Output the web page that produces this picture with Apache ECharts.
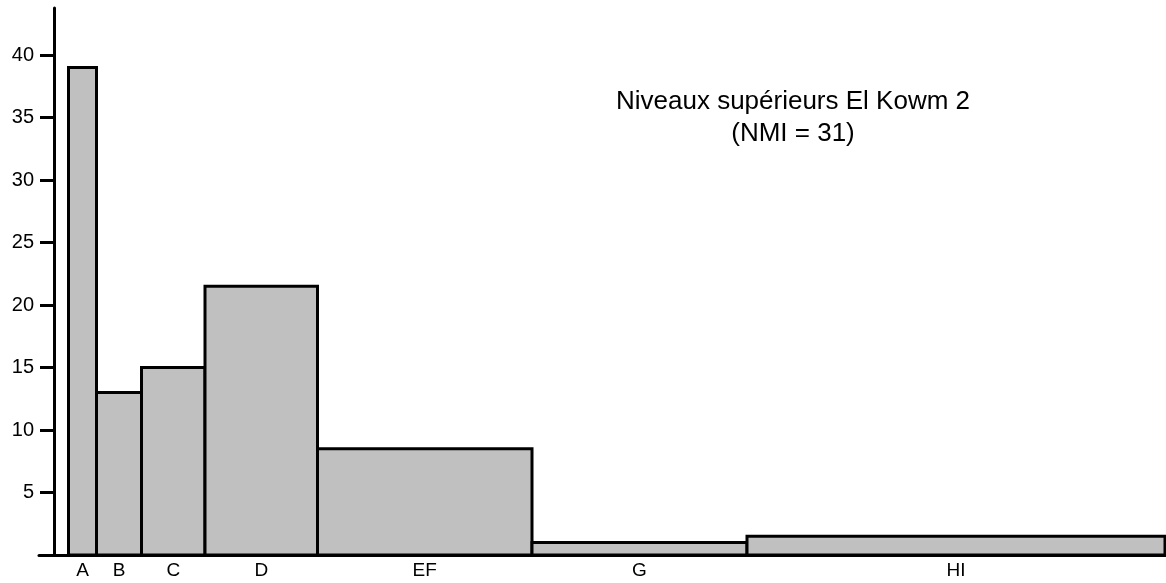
<!DOCTYPE html>
<html>
<head>
<meta charset="utf-8">
<script src="https://cdn.jsdelivr.net/npm/echarts@6/dist/echarts.min.js"></script>
<style>
html,body{margin:0;padding:0;background:#fff;}
#chart{width:1166px;height:583px;}
</style>
</head>
<body>
<div id="chart"></div>
<script>
// Class labels and their boundaries (relative units along the x axis)
const categories = ['A', 'B', 'C', 'D', 'EF', 'G', 'HI'];
const classEdges = [14.5, 42.5, 87.5, 151, 263.5, 478, 693, 1111];
const values = [39, 13, 15, 21.5, 8.5, 1, 1.5];
const yTicks = [5, 10, 15, 20, 25, 30, 35, 40];
const titleLines = ['Niveaux supérieurs El Kowm 2', '(NMI = 31)'];

const centers = categories.map((c, i) => (classEdges[i] + classEdges[i + 1]) / 2);
const data = categories.map((c, i) => [classEdges[i], classEdges[i + 1], values[i], c]);

const FONT = 'Liberation Sans, Arial, sans-serif';
const chart = echarts.init(document.getElementById('chart'), null, {renderer: 'canvas'});
chart.setOption({
  animation: false,
  backgroundColor: '#ffffff',
  title: {
    text: titleLines.join('\n'),
    left: 788, top: 81, textAlign: 'center',
    textStyle: {fontFamily: FONT, fontSize: 26, fontWeight: 'normal', color: '#000', lineHeight: 32}
  },
  grid: {left: 39, right: 0, top: 8, bottom: 28, containLabel: false},
  xAxis: {
    type: 'value', min: -15, max: 1112,
    splitLine: {show: false},
    axisLine: {lineStyle: {color: '#000', width: 3}},
    axisTick: {show: false},
    axisLabel: {
      customValues: centers,
      margin: 6,
      fontFamily: FONT, fontSize: 19, color: '#000',
      formatter: function (v) {
        for (let i = 0; i < centers.length; i++) if (Math.abs(centers[i] - v) < 0.01) return categories[i];
        return '';
      }
    }
  },
  yAxis: {
    type: 'value', min: 0, max: 43.76,
    splitLine: {show: false},
    axisLine: {onZero: true, lineStyle: {color: '#000', width: 3}},
    axisTick: {customValues: yTicks, length: 14, lineStyle: {color: '#000', width: 3}},
    axisLabel: {customValues: yTicks, margin: 5, fontFamily: FONT, fontSize: 20, color: '#000'}
  },
  series: [{
    type: 'custom',
    data: data,
    encode: {x: [0, 1], y: 2},
    renderItem: function (params, api) {
      const p0 = api.coord([api.value(0), 0]);
      const p1 = api.coord([api.value(1), api.value(2)]);
      return {
        type: 'rect',
        shape: {x: p0[0], y: p1[1], width: p1[0] - p0[0], height: p0[1] - p1[1]},
        style: {fill: '#c0c0c0', stroke: '#000', lineWidth: 3}
      };
    }
  }]
});
</script>
</body>
</html>
